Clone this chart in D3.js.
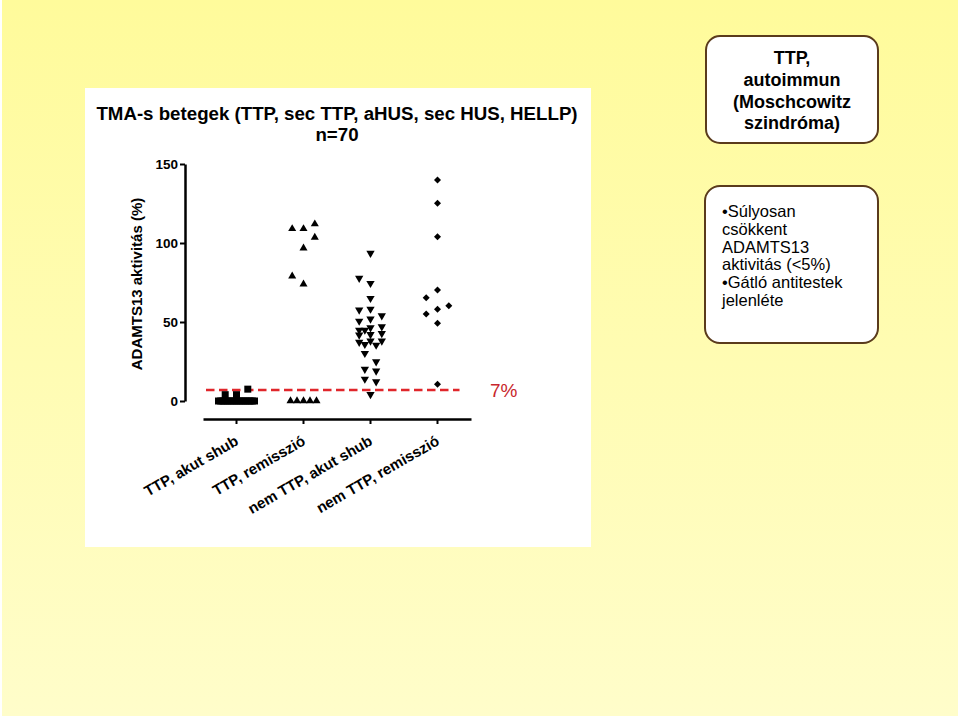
<!DOCTYPE html>
<html><head><meta charset="utf-8">
<script src="https://cdn.jsdelivr.net/npm/d3@7"></script>
<style>body{margin:0;background:#fff;} svg{display:block;}</style>
</head><body>
<svg id="chart" width="960" height="716"></svg>
<script>
// ---- data ----
const categories = ["TTP, akut shub", "TTP, remisszió", "nem TTP, akut shub", "nem TTP, remisszió"];
const ttpAcute = [0,0,0,0,0,0,0,0,0,0,0,0,0,0,0,0,0, 4, 4, 7.5];
const ttpRemission = [109, 109, 112, 103.6, 96.8, 73.9, 79, 0, 0, 0, 0, 0];
const nonTtpAcute = [93.5, 74.5, 77.7, 65, 58.2, 57.6, 54, 51.9, 50.6, 47, 46.4, 44.9, 44.9, 42.8, 42.2, 41.8, 38, 38, 37.2, 35.9, 35.4, 30.2, 24.9, 20.1, 19, 13.9, 12.2, 4.2];
const nonTtpRemission = [139.9, 125.1, 104, 70.3, 65.4, 58, 60.3, 55.1, 49.2, 10.6];
const yTicks = [0, 50, 100, 150];
const thresholdValue = 7;
const thresholdLabel = "7%";
const titleLines = ["TMA-s betegek (TTP, sec TTP, aHUS, sec HUS, HELLP)", "n=70"];
const yTitle = "ADAMTS13 aktivitás (%)";
const box1Lines = ["TTP,", "autoimmun", "(Moschcowitz", "szindróma)"];
const box2Lines = ["•Súlyosan", "csökkent", "ADAMTS13", "aktivitás (<5%)", "•Gátló antitestek", "jelenléte"];

const FONT = "'Liberation Sans', Arial, Helvetica, sans-serif";
const svg = d3.select("#chart");

// ---- background ----
const defs = svg.append("defs");
const grad = defs.append("linearGradient").attr("id", "bg").attr("x1", 0).attr("y1", 0).attr("x2", 0).attr("y2", 1);
grad.append("stop").attr("offset", "0%").attr("stop-color", "#fffb9b");
grad.append("stop").attr("offset", "100%").attr("stop-color", "#fffdca");
svg.append("rect").attr("x", 0).attr("y", 0).attr("width", 960).attr("height", 716).attr("fill", "#fff");
svg.append("rect").attr("x", 2).attr("y", 0).attr("width", 956).attr("height", 716).attr("fill", "url(#bg)");

// chart panel
svg.append("rect").attr("x", 85).attr("y", 88).attr("width", 506).attr("height", 459).attr("fill", "#fff");

// ---- titles ----
svg.append("g").selectAll("text").data(titleLines).join("text")
  .attr("x", 337).attr("y", (d, i) => 120 + i * 21)
  .attr("text-anchor", "middle").attr("font-family", FONT).attr("font-weight", "bold")
  .attr("font-size", 18.7).attr("fill", "#000").text(d => d);

// ---- scales ----
const y = d3.scaleLinear().domain([0, 150]).range([401, 164]);
const x = d3.scaleBand().domain(categories).range([203, 471]);

// y axis
const gy = svg.append("g").attr("transform", "translate(185,0)")
  .call(d3.axisLeft(y).tickValues(yTicks).tickSize(5).tickSizeOuter(0).tickPadding(2));
gy.select(".domain").attr("stroke", "#000").attr("stroke-width", 2.5);
gy.selectAll(".tick line").attr("stroke", "#000").attr("stroke-width", 2);
gy.selectAll(".tick text").attr("font-family", FONT).attr("font-weight", "bold").attr("font-size", 13.5).attr("fill", "#000");

svg.append("text").attr("transform", "translate(142,284) rotate(-90)")
  .attr("text-anchor", "middle").attr("font-family", FONT).attr("font-weight", "bold")
  .attr("font-size", 15).attr("fill", "#000").text(yTitle);

// x axis
const gx = svg.append("g").attr("transform", "translate(0,419)")
  .call(d3.axisBottom(x).tickSize(5).tickSizeOuter(0));
gx.select(".domain").attr("stroke", "#000").attr("stroke-width", 2.5);
gx.selectAll(".tick line").attr("stroke", "#000").attr("stroke-width", 2);
gx.selectAll(".tick text")
  .attr("transform", "translate(3,25) rotate(-30)")
  .attr("y", 0).attr("dy", 0).attr("text-anchor", "end")
  .attr("font-family", FONT).attr("font-weight", "bold").attr("font-size", 15).attr("fill", "#000");

// ---- threshold ----
const cxLast = x(categories[3]) + x.bandwidth() / 2;
svg.append("line")
  .attr("x1", x.range()[0] + 3).attr("x2", cxLast + 22)
  .attr("y1", y(thresholdValue)).attr("y2", y(thresholdValue))
  .attr("stroke", "#e0262b").attr("stroke-width", 2.6).attr("stroke-dasharray", "8.5,4.5");
svg.append("text").attr("x", 490).attr("y", y(thresholdValue) + 7)
  .attr("font-family", FONT).attr("font-size", 19).attr("fill", "#c8262c").text(thresholdLabel);

// ---- scatter layout (Prism-like column scatter) ----
function layout(values, cx, markW) {
  const s = 5.65, W = 10, H = 8.6, maxSpread = 36, maxSlot = 3;
  const counts = d3.rollup(values, v => v.length, d => d);
  const out = [];
  const placed = [];
  counts.forEach((n, v) => {
    if (n >= 3) {
      const sp = Math.min(markW, maxSpread / (n - 1));
      for (let i = 0; i < n; i++) out.push({ v, x: cx + (i - (n - 1) / 2) * sp });
    }
  });
  const slots = [0];
  for (let k = 1; k <= maxSlot; k++) slots.push(-k, k);
  values.forEach(v => {
    if (counts.get(v) >= 3) return;
    const py = y(v);
    let best = null, bestScore = -1;
    for (const slot of slots) {
      const px = cx + slot * s;
      let score = Infinity;
      placed.forEach(p => {
        const sc = Math.max(Math.abs(p.x - px) / W, Math.abs(p.y - py) / H);
        if (sc < score) score = sc;
      });
      if (score >= 1) { best = px; bestScore = score; break; }
      if (score > bestScore + 1e-9) { bestScore = score; best = px; }
    }
    placed.push({ x: best, y: py });
    out.push({ v, x: best });
  });
  return out;
}

const series = [
  { values: ttpAcute, symbol: d3.symbolSquare, size: 49, rot: 0, w: 7 },
  { values: ttpRemission, symbol: d3.symbolTriangle, size: 28, rot: 0, w: 6.5 },
  { values: nonTtpAcute, symbol: d3.symbolTriangle, size: 30, rot: 180, w: 6.5 },
  { values: nonTtpRemission, symbol: d3.symbolDiamond2, size: 31, rot: 0, w: 7 }
];

series.forEach((s, i) => {
  const cx = x(categories[i]) + x.bandwidth() / 2;
  const pts = layout(s.values, cx, s.w);
  svg.append("g").selectAll("path").data(pts).join("path")
    .attr("d", d3.symbol(s.symbol, s.size)())
    .attr("transform", d => `translate(${d.x},${y(d.v)}) rotate(${s.rot})`)
    .attr("fill", "#000");
});

// ---- info boxes ----
const BOX_STROKE = "#5a3b1c";
svg.append("rect").attr("x", 706).attr("y", 36).attr("width", 172).attr("height", 107).attr("rx", 14)
  .attr("fill", "#fff").attr("stroke", BOX_STROKE).attr("stroke-width", 2);
svg.append("g").selectAll("text").data(box1Lines).join("text")
  .attr("x", 792).attr("y", (d, i) => 64 + i * 21.8)
  .attr("text-anchor", "middle").attr("font-family", FONT).attr("font-weight", "bold")
  .attr("font-size", 18).attr("fill", "#000").text(d => d);

svg.append("rect").attr("x", 705).attr("y", 186).attr("width", 173).attr("height", 157).attr("rx", 15)
  .attr("fill", "#fff").attr("stroke", BOX_STROKE).attr("stroke-width", 2);
svg.append("g").selectAll("text").data(box2Lines).join("text")
  .attr("x", 722).attr("y", (d, i) => 217 + i * 17.8)
  .attr("font-family", FONT).attr("font-size", 16.5).attr("fill", "#000").text(d => d);
</script>
</body></html>
